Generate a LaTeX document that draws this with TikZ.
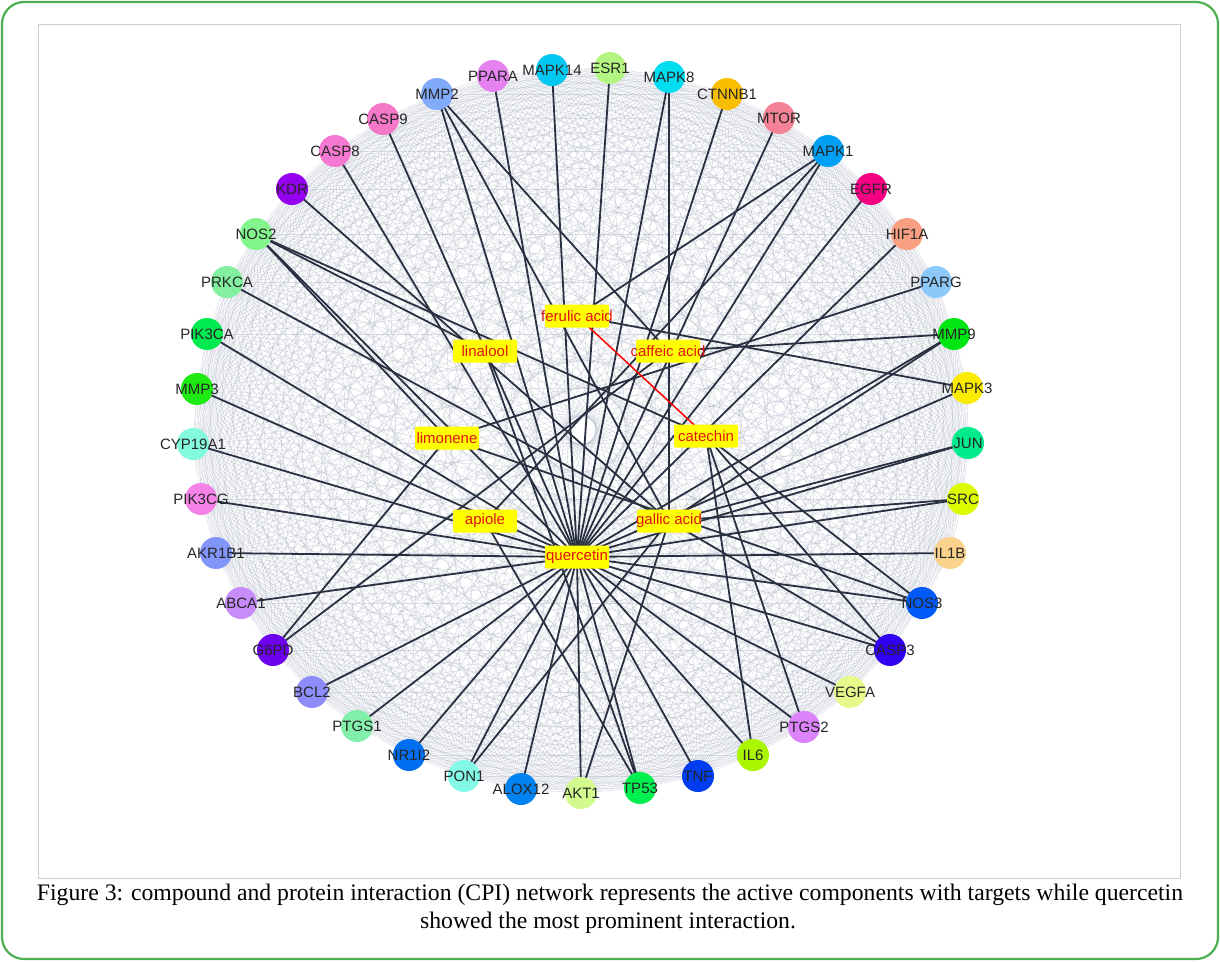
\documentclass[tikz,border=0pt]{standalone}
\usepackage{fontspec}
\setmainfont{Liberation Serif}
\newfontfamily\arialf{Liberation Sans}
\pgfdeclarelayer{mesh}
\pgfdeclarelayer{edges}
\pgfsetlayers{mesh,edges,main}
\definecolor{frameg}{RGB}{76,175,80}
\definecolor{innerf}{RGB}{205,205,205}
\definecolor{linkc}{RGB}{40,48,66}
\definecolor{meshc}{RGB}{165,172,190}
\definecolor{cyel}{RGB}{255,255,0}
\definecolor{cred}{RGB}{225,20,20}
\definecolor{cMAPKxiv}{RGB}{0,200,240}
\definecolor{cESR}{RGB}{180,245,130}
\definecolor{cPPARA}{RGB}{230,130,240}
\definecolor{cMMPii}{RGB}{130,170,250}
\definecolor{cMAPKviii}{RGB}{0,220,240}
\definecolor{cCTNNB}{RGB}{250,190,0}
\definecolor{cCASPix}{RGB}{245,120,200}
\definecolor{cMTOR}{RGB}{245,130,150}
\definecolor{cCASPviii}{RGB}{245,120,210}
\definecolor{cMAPKi}{RGB}{0,160,245}
\definecolor{cKDR}{RGB}{150,0,240}
\definecolor{cEGFR}{RGB}{245,0,130}
\definecolor{cNOSii}{RGB}{130,245,140}
\definecolor{cHIF}{RGB}{250,160,130}
\definecolor{cPRKCA}{RGB}{130,240,160}
\definecolor{cPPARG}{RGB}{140,200,250}
\definecolor{cPIKCA}{RGB}{0,235,80}
\definecolor{cMMPix}{RGB}{0,230,20}
\definecolor{cMMPiii}{RGB}{30,235,20}
\definecolor{cMAPKiii}{RGB}{250,235,0}
\definecolor{cCYP}{RGB}{130,250,220}
\definecolor{cJUN}{RGB}{0,235,140}
\definecolor{cPIKCG}{RGB}{245,130,230}
\definecolor{cSRC}{RGB}{220,250,0}
\definecolor{cAKR}{RGB}{130,150,250}
\definecolor{cILB}{RGB}{250,210,140}
\definecolor{cABCA}{RGB}{200,140,250}
\definecolor{cNOSiii}{RGB}{0,90,250}
\definecolor{cGPD}{RGB}{110,0,240}
\definecolor{cCASPiii}{RGB}{50,0,240}
\definecolor{cBCL}{RGB}{140,140,250}
\definecolor{cVEGFA}{RGB}{230,250,140}
\definecolor{cPTGSi}{RGB}{130,240,170}
\definecolor{cPTGSii}{RGB}{220,130,250}
\definecolor{cNRI}{RGB}{0,110,240}
\definecolor{cILvi}{RGB}{170,245,0}
\definecolor{cPON}{RGB}{130,250,230}
\definecolor{cTNF}{RGB}{0,60,240}
\definecolor{cALOX}{RGB}{0,130,240}
\definecolor{cTP}{RGB}{0,240,80}
\definecolor{cAKT}{RGB}{210,250,140}
\tikzset{
  pnode/.style={circle, minimum size=32, inner sep=0, draw=none},
  plab/.style={font=\arialf\fontsize{15}{15}\selectfont, text=black!85, inner sep=0},
  cbox/.style={rectangle, fill=cyel, minimum width=64, minimum height=23, inner sep=0, rounded corners=2},
  ctext/.style={font=\arialf\fontsize{15}{15}\selectfont, text=cred, inner sep=0},
  link/.style={draw=linkc, line width=1.8},
  redlink/.style={draw=red, line width=1.5},
  ppi/.style={draw=meshc, line width=0.55, opacity=0.38},
  captxt/.style={font=\fontsize{23.7}{28}\selectfont, inner sep=0, text=black}
}
\newcommand{\prot}[4]{\node[pnode, fill=#4, label={[plab]center:#1}] (#1) at (#2,#3) {};}
\newcommand{\comp}[4]{\node[cbox, label={[ctext]center:#4}] (#1) at (#2,#3) {};}
\def\plist{MAPK14,ESR1,MAPK8,CTNNB1,MTOR,MAPK1,EGFR,HIF1A,PPARG,MMP9,MAPK3,JUN,SRC,IL1B,NOS3,CASP3,VEGFA,PTGS2,IL6,TNF,TP53,AKT1,ALOX12,PON1,NR1I2,PTGS1,BCL2,G6PD,ABCA1,AKR1B1,PIK3CG,CYP19A1,MMP3,PIK3CA,PRKCA,NOS2,KDR,CASP8,CASP9,MMP2,PPARA}
\begin{document}
\begin{tikzpicture}[x=1pt, y=-1pt]
\useasboundingbox (0,0) rectangle (1220,961);
% frames
\draw[frameg, line width=2.2, rounded corners=22] (2,2) rectangle (1218,959);
\draw[innerf, line width=0.8] (38,24) rectangle (1180,878);
% proteins
\prot{MAPK14}{552}{70}{cMAPKxiv}
\prot{ESR1}{610}{68}{cESR}
\prot{PPARA}{493}{76}{cPPARA}
\prot{MMP2}{437}{94}{cMMPii}
\prot{MAPK8}{669}{77}{cMAPKviii}
\prot{CTNNB1}{727}{94}{cCTNNB}
\prot{CASP9}{383}{119}{cCASPix}
\prot{MTOR}{779}{118}{cMTOR}
\prot{CASP8}{335}{151}{cCASPviii}
\prot{MAPK1}{828}{151}{cMAPKi}
\prot{KDR}{292}{189}{cKDR}
\prot{EGFR}{871}{189}{cEGFR}
\prot{NOS2}{256}{234}{cNOSii}
\prot{HIF1A}{907}{234}{cHIF}
\prot{PRKCA}{227}{282}{cPRKCA}
\prot{PPARG}{936}{282}{cPPARG}
\prot{PIK3CA}{207}{334}{cPIKCA}
\prot{MMP9}{954}{334}{cMMPix}
\prot{MMP3}{197}{389}{cMMPiii}
\prot{MAPK3}{967}{388}{cMAPKiii}
\prot{CYP19A1}{193}{444}{cCYP}
\prot{JUN}{968}{443}{cJUN}
\prot{PIK3CG}{201}{499}{cPIKCG}
\prot{SRC}{963}{499}{cSRC}
\prot{AKR1B1}{216}{553}{cAKR}
\prot{IL1B}{950}{553}{cILB}
\prot{ABCA1}{241}{603}{cABCA}
\prot{NOS3}{922}{603}{cNOSiii}
\prot{G6PD}{273}{650}{cGPD}
\prot{CASP3}{890}{650}{cCASPiii}
\prot{BCL2}{312}{692}{cBCL}
\prot{VEGFA}{850}{692}{cVEGFA}
\prot{PTGS1}{357}{726}{cPTGSi}
\prot{PTGS2}{804}{727}{cPTGSii}
\prot{NR1I2}{409}{755}{cNRI}
\prot{IL6}{753}{755}{cILvi}
\prot{PON1}{464}{776}{cPON}
\prot{TNF}{698}{776}{cTNF}
\prot{ALOX12}{521}{789}{cALOX}
\prot{TP53}{640}{788}{cTP}
\prot{AKT1}{581}{793}{cAKT}
% compounds
\comp{ferulic}{577}{316}{ferulic acid}
\comp{linalool}{485}{351}{linalool}
\comp{caffeic}{668}{351}{caffeic acid}
\comp{limonene}{447}{438}{limonene}
\comp{catechin}{706}{436}{catechin}
\comp{apiole}{485}{521}{apiole}
\comp{gallic}{669}{521}{gallic acid}
\comp{quercetin}{577}{557}{quercetin}
% protein-protein mesh
\begin{pgfonlayer}{mesh}
\foreach \a [count=\i] in \plist {
  \foreach \b [count=\j] in \plist {
    \ifnum\j>\i \draw[ppi] (\a.center) -- (\b.center); \fi
  }
}
\end{pgfonlayer}
% compound-target links
\begin{pgfonlayer}{edges}
\foreach \t in {MAPK14,ESR1,PPARA,MMP2,MAPK8,CTNNB1,CASP9,MTOR,CASP8,MAPK1,EGFR,HIF1A,NOS2,PIK3CA,MMP3,CYP19A1,PIK3CG,AKR1B1,ABCA1,BCL2,PTGS1,NR1I2,PON1,ALOX12,AKT1,TP53,TNF,IL6,PTGS2,VEGFA,CASP3,NOS3,IL1B,SRC,JUN,MAPK3,MMP9}
  \draw[link] (quercetin.center) -- (\t.center);
\foreach \t in {MMP2,MAPK8,KDR,PRKCA,PON1,AKT1,CASP3,JUN,SRC,MMP9}
  \draw[link] (gallic.center) -- (\t.center);
\foreach \t in {MMP2,G6PD,MMP9}
  \draw[link] (caffeic.center) -- (\t.center);
\foreach \t in {NOS2,IL6,PTGS2,NOS3,CASP3}
  \draw[link] (catechin.center) -- (\t.center);
\foreach \t in {MAPK1,MAPK3}
  \draw[link] (ferulic.center) -- (\t.center);
\foreach \t in {G6PD,PPARG,NOS2,NOS3}
  \draw[link] (limonene.center) -- (\t.center);
\foreach \t in {TP53,NOS2}
  \draw[link] (linalool.center) -- (\t.center);
\foreach \t in {TP53,MAPK1}
  \draw[link] (apiole.center) -- (\t.center);
\draw[redlink] (ferulic.center) -- (catechin.center);
\end{pgfonlayer}
% caption
\node[captxt] (cap1) at (610,895) {Figure 3: compound and protein interaction (CPI) network represents the active components with targets while quercetin};
\node[captxt] (cap2) at (608,923) {showed the most prominent interaction.};
\end{tikzpicture}
\end{document}
